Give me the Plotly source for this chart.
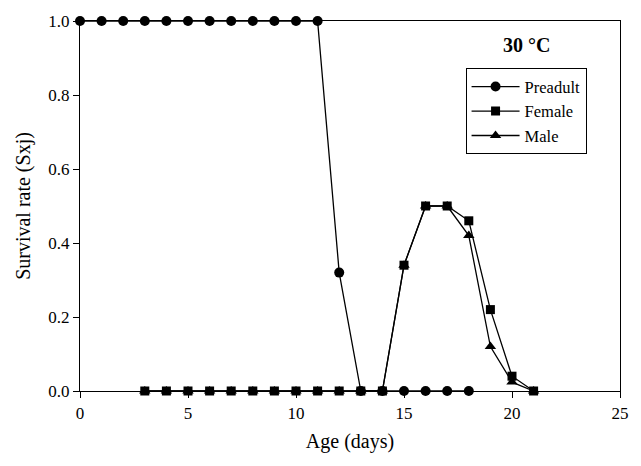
import plotly.graph_objects as go

pre_x = list(range(0, 19))
pre_y = [1.0]*12 + [0.32, 0, 0, 0, 0, 0, 0]
fem_x = list(range(3, 22))
fem_y = [0]*12 + [0.34, 0.5, 0.5, 0.46, 0.22, 0.04, 0.0]
male_x = list(range(3, 22))
male_y = [0]*12 + [0.34, 0.5, 0.5, 0.42, 0.12, 0.024, 0.0]

fig = go.Figure()
line = dict(color="black", width=1.3)
fig.add_trace(go.Scatter(x=male_x, y=male_y, mode="lines+markers", name="Male",
                         line=line, marker=dict(symbol="triangle-up", size=10, color="black"),
                         cliponaxis=False, legendrank=3))
fig.add_trace(go.Scatter(x=fem_x, y=fem_y, mode="lines+markers", name="Female",
                         line=line, marker=dict(symbol="square", size=9, color="black"),
                         cliponaxis=False, legendrank=2))
fig.add_trace(go.Scatter(x=pre_x, y=pre_y, mode="lines+markers", name="Preadult",
                         line=line, marker=dict(symbol="circle", size=10, color="black"),
                         cliponaxis=False, legendrank=1))

font = dict(family="Liberation Serif, Times New Roman, serif", color="black")
fig.update_layout(
    width=641, height=466,
    margin=dict(l=80, r=15, t=19, b=75),
    plot_bgcolor="white", paper_bgcolor="white",
    font=dict(size=17, **font),
    showlegend=True,
    legend=dict(x=0.714, y=0.872, xanchor="left", yanchor="top",
                bordercolor="black", borderwidth=1, bgcolor="white",
                font=dict(size=16.5, **font), tracegroupgap=0, itemwidth=48),
    xaxis=dict(range=[0, 25], tickvals=[0, 5, 10, 15, 20, 25], ticks="outside",
               ticklen=6, tickcolor="black", showline=True, linecolor="black",
               linewidth=1.3, mirror=True, showgrid=False, zeroline=False,
               title=dict(text="Age (days)", font=dict(size=20, **font), standoff=12),
               tickfont=dict(size=17, **font)),
    yaxis=dict(range=[0, 1], tickvals=[0, 0.2, 0.4, 0.6, 0.8, 1.0], tickformat=".1f",
               ticks="outside", ticklen=6, tickcolor="black", showline=True,
               linecolor="black", linewidth=1.3, mirror=True, showgrid=False,
               zeroline=False,
               title=dict(text="Survival rate (Sxj)", font=dict(size=20, **font), standoff=12),
               tickfont=dict(size=17, **font)),
    annotations=[dict(text="<b>30 °C</b>", x=0.8275, y=0.935, xref="paper", yref="paper",
                      xanchor="center", yanchor="middle",
                      showarrow=False, font=dict(size=20, **font))],
)
fig.write_html("out.html")
